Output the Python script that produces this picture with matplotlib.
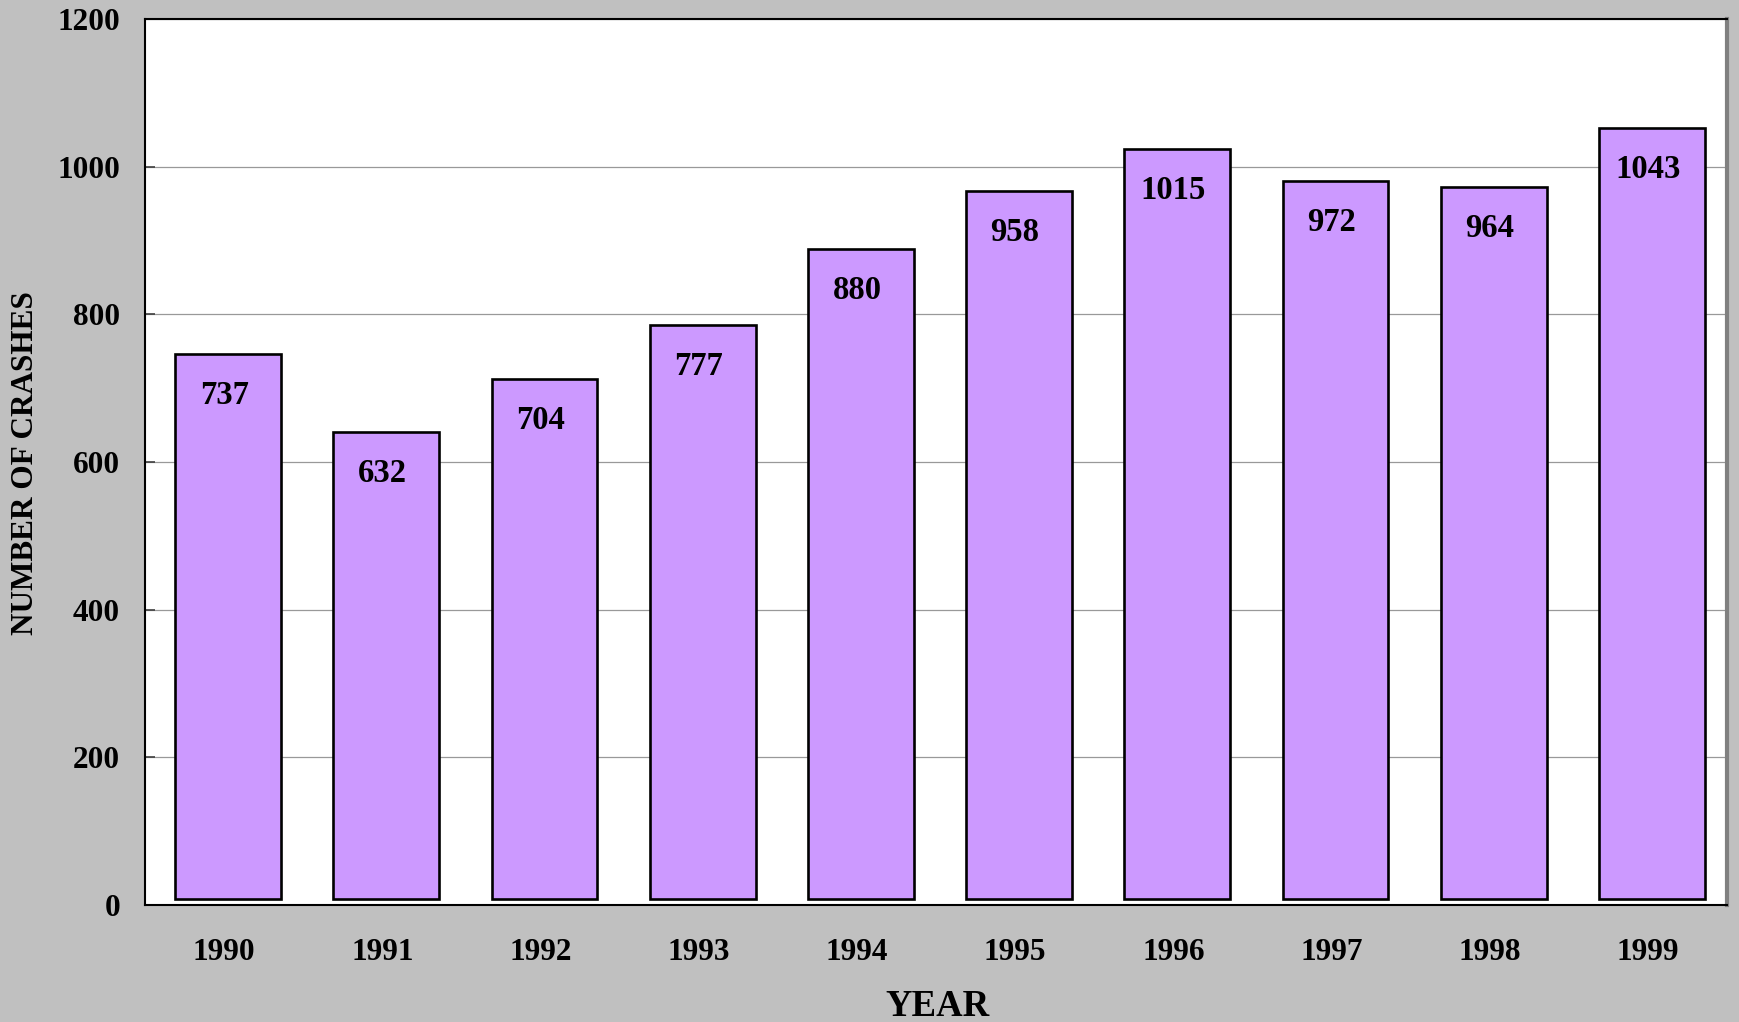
import matplotlib
matplotlib.use("Agg")
import matplotlib.pyplot as plt
from matplotlib.transforms import ScaledTranslation

# Annual crash counts
years = ["1990", "1991", "1992", "1993", "1994", "1995", "1996", "1997", "1998", "1999"]
crashes = [737, 632, 704, 777, 880, 958, 1015, 972, 964, 1043]
y_ticks = [0, 200, 400, 600, 800, 1000, 1200]

plt.rcParams["font.family"] = ["Liberation Serif", "DejaVu Serif"]
plt.rcParams["font.weight"] = "bold"

DPI = 100
fig = plt.figure(figsize=(17.39, 10.22), dpi=DPI, facecolor="#C0C0C0")
ax = fig.add_axes([145 / 1739, 1 - 905 / 1022, 1582 / 1739, 886 / 1022])
ax.set_facecolor("white")

x = list(range(len(years)))

# Bars drawn with a small depth offset (right and up), like a shadowed column chart
shift = ScaledTranslation(4 / DPI, 6.5 / DPI, fig.dpi_scale_trans)
ax.bar(x, crashes, width=0.67, color="#CC99FF", edgecolor="black",
       linewidth=1.9, transform=ax.transData + shift, zorder=3)

# Value labels just below the top of each column
label_shift = ScaledTranslation(0, -35 / DPI, fig.dpi_scale_trans)
for xi, v in zip(x, crashes):
    ax.text(xi, v, str(v), ha="center", va="center", fontsize=23.5,
            fontweight="bold", transform=ax.transData + label_shift, zorder=4)

ax.set_xlim(-0.5, len(years) - 0.5)
ax.set_ylim(0, 1200)
ax.set_yticks(y_ticks)
ax.set_yticklabels([str(t) for t in y_ticks], fontsize=22.5, fontweight="bold")
ax.set_xticks(x)
ax.set_xticklabels(years, fontsize=22.5, fontweight="bold")

ax.yaxis.grid(True, color="#999999", linewidth=0.9, zorder=0)
ax.set_axisbelow(True)

ax.tick_params(axis="y", direction="in", length=7, width=1.2, color="#404040", pad=18)
ax.tick_params(axis="x", length=0, pad=24)

for side in ("left", "bottom", "top"):
    ax.spines[side].set_color("black")
    ax.spines[side].set_linewidth(1.5)
ax.spines["right"].set_color("#808080")
ax.spines["right"].set_linewidth(3)

fig.text(938 / 1739, 1 - 1006 / 1022, "YEAR", ha="center", va="center",
         fontsize=26.5, fontweight="bold")
fig.text(26 / 1739, 1 - 463 / 1022, "NUMBER OF CRASHES", ha="center", va="center",
         rotation=90, fontsize=22.5, fontweight="bold")

fig.savefig("out.png", dpi=DPI, facecolor=fig.get_facecolor())
